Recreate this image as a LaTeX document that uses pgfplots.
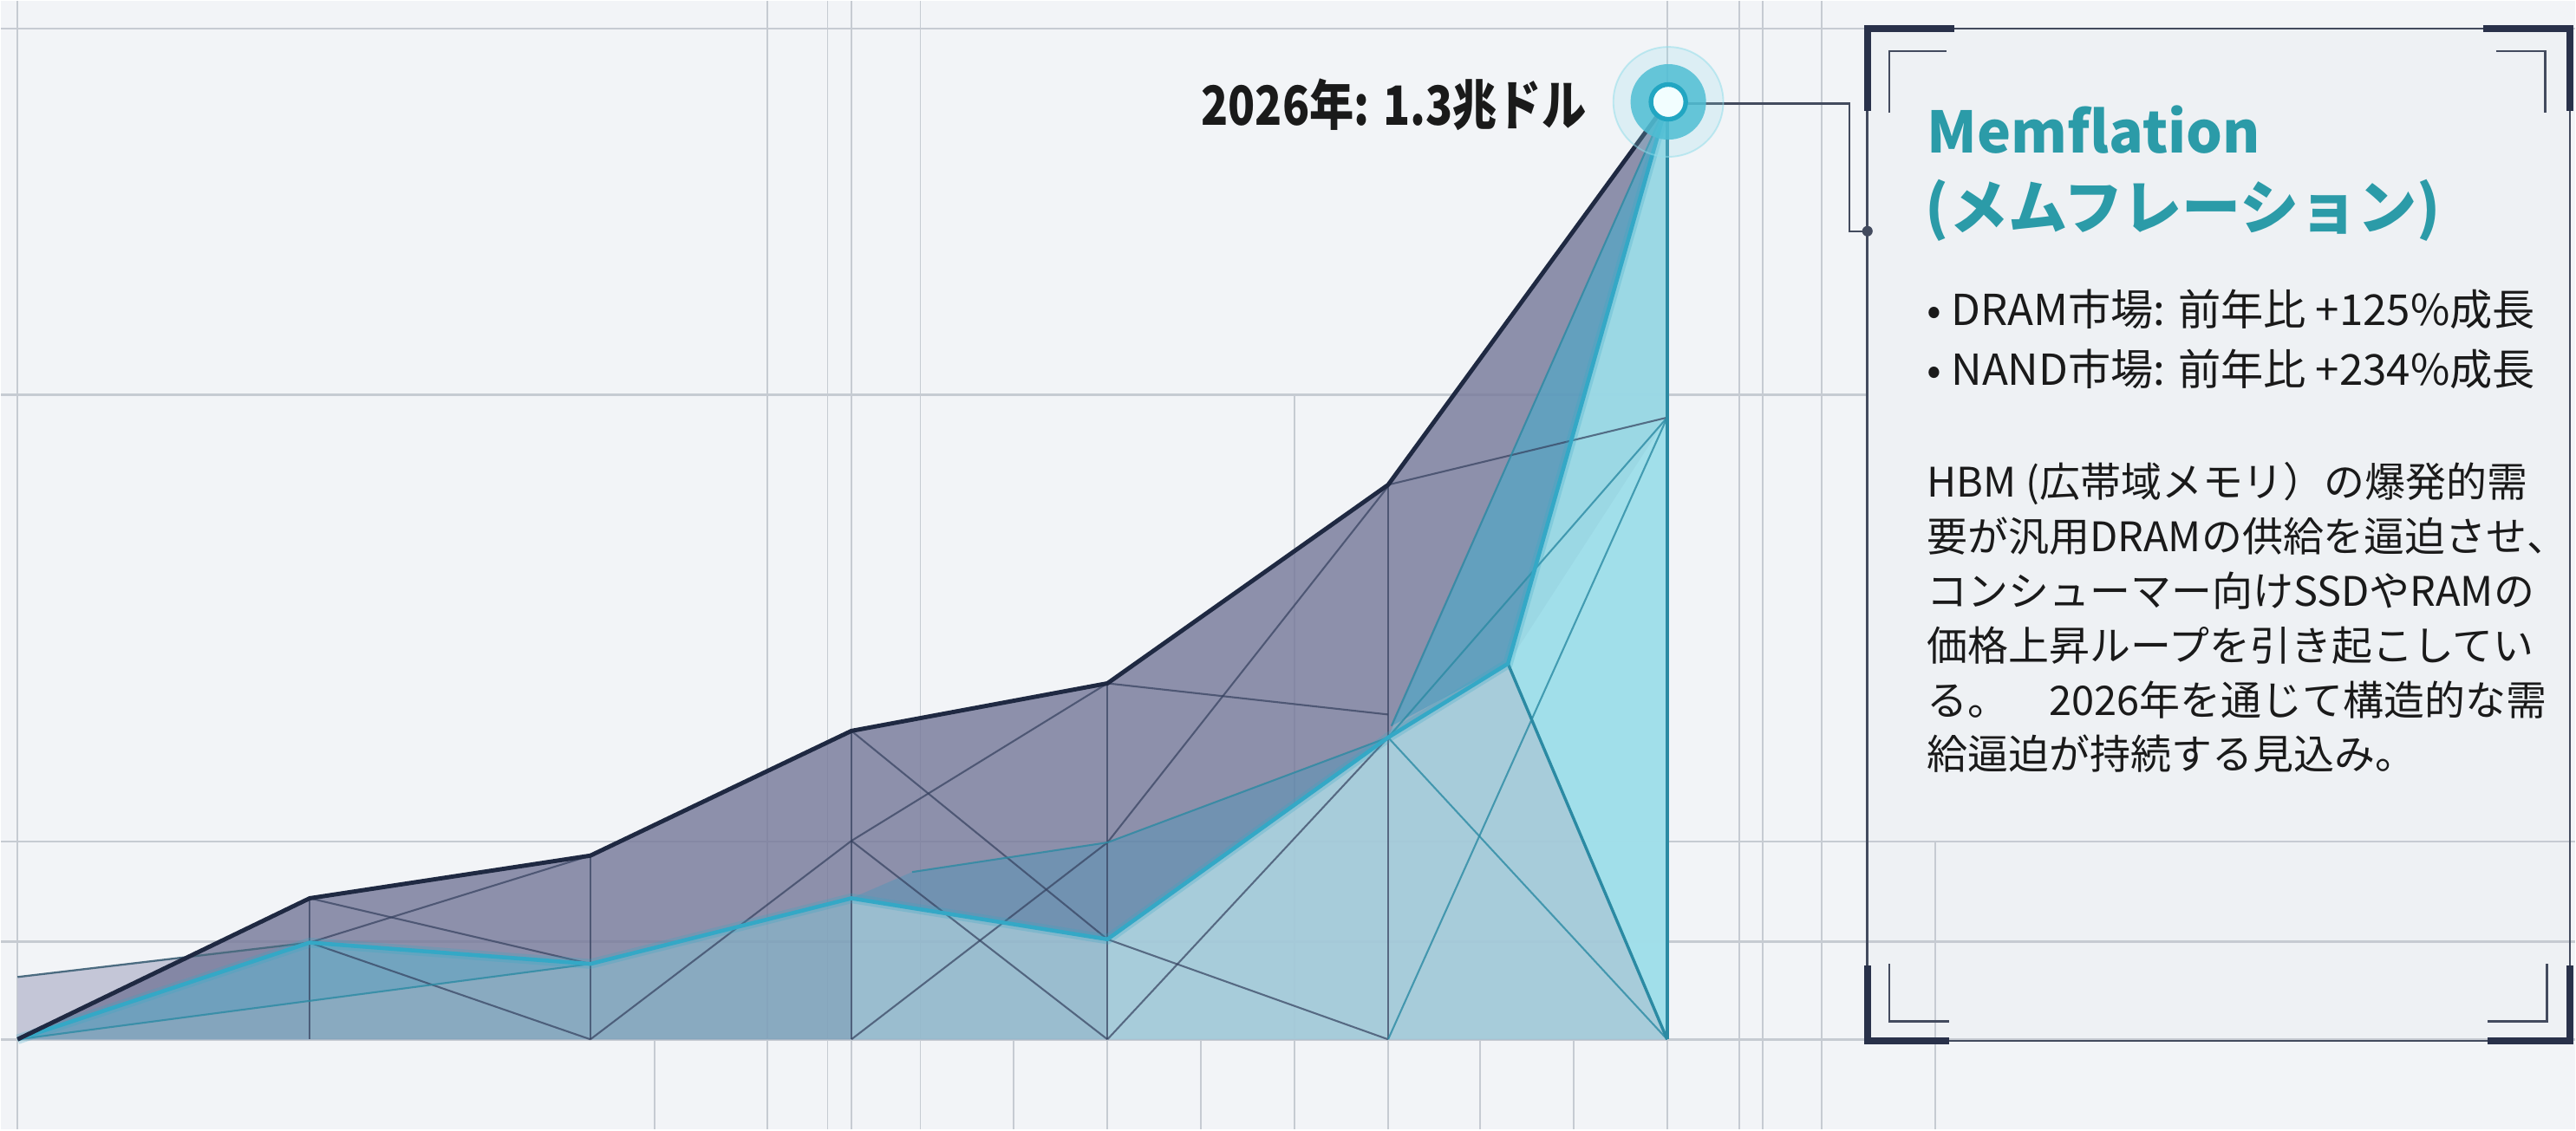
\documentclass[border=0pt]{standalone}
\usepackage{pgfplots}
\pgfplotsset{compat=1.18}
\usepackage{graphicx}
\usepackage{fontspec}
\setmainfont{Noto Sans CJK JP}
\definecolor{bgc}{HTML}{F2F4F7}
\definecolor{panelbg}{HTML}{EEF1F4}
\definecolor{gridc}{HTML}{C6CBD2}
\definecolor{navy}{HTML}{1F2942}
\definecolor{darkfill}{HTML}{777A9B}
\definecolor{lav}{HTML}{BFC2D4}
\definecolor{lavline}{HTML}{4B6B80}
\definecolor{cyanl}{HTML}{34A8C6}
\definecolor{cyanfill}{HTML}{86CADB}
\definecolor{brightc}{HTML}{A0E4EE}
\definecolor{bandc}{HTML}{3F97BE}
\definecolor{lightc}{HTML}{C8F0F6}
\definecolor{facetc}{HTML}{34405E}
\definecolor{tealf}{HTML}{2B8AA3}
\definecolor{titlec}{HTML}{2B9BA8}
\definecolor{framec}{HTML}{29314A}
\definecolor{thinf}{HTML}{434B5E}
\definecolor{txt}{HTML}{1A1A1A}
\definecolor{haloc}{HTML}{8FDDEA}
\definecolor{ringc}{HTML}{4FBED4}
\definecolor{innerd}{HTML}{22A6C2}
\definecolor{innerf}{HTML}{F2FEFF}
\begin{document}
\begin{tikzpicture}
\begin{axis}[
  scale only axis, width=784pt, height=344pt,
  xmin=0, xmax=1568, ymin=0, ymax=688, y dir=reverse,
  hide axis, clip=false,
  facet/.style={draw=facetc, line width=0.55pt, draw opacity=0.7, mark=none},
  tfacet/.style={draw=tealf, line width=0.55pt, draw opacity=0.8, mark=none},
]
% background and panel
\fill[bgc] (axis cs:0,0) rectangle (axis cs:1568,688);
\fill[panelbg] (axis cs:1137,17) rectangle (axis cs:1565,634);
% grid
\draw[gridc, line width=0.7pt] (axis cs:0,17) -- (axis cs:1568,17);
\draw[gridc, line width=0.7pt] (axis cs:0,240) -- (axis cs:1137,240);
\draw[gridc, line width=0.7pt] (axis cs:0,512.5) -- (axis cs:1568,512.5);
\draw[gridc, line width=0.7pt] (axis cs:0,573.5) -- (axis cs:1568,573.5);
\draw[gridc, line width=0.7pt] (axis cs:0,633) -- (axis cs:1568,633);
\pgfplotsinvokeforeach{10,467,503.5,518,560,1015,1059,1073,1109}{
  \draw[gridc, line width=0.5pt] (axis cs:#1,0) -- (axis cs:#1,688);
}
\pgfplotsinvokeforeach{398,617,674,731,845,901,958}{
  \draw[gridc, line width=0.5pt] (axis cs:#1,633) -- (axis cs:#1,688);
}
\draw[gridc, line width=0.5pt] (axis cs:788,240) -- (axis cs:788,688);
\draw[gridc, line width=0.5pt] (axis cs:1178.5,512.5) -- (axis cs:1178.5,688);

% ---- areas ----
\addplot[draw=none, fill=lav, fill opacity=0.9] coordinates {(10,595) (188,574) (188,633) (10,633)};
\addplot[draw=none, fill=darkfill, fill opacity=0.82] coordinates {(10,633) (188,547) (359,521) (518,445) (674,416) (845,295) (1015,62) (1015,633)};
\addplot[draw=none, fill=cyanfill, fill opacity=0.45] coordinates {(10,633) (188,574) (359,587) (518,547) (674,572) (845,449) (1015,62) (1015,633)};
\addplot[draw=none, fill=bandc, fill opacity=0.3] coordinates {(10,633) (188,574) (359,587)};
\addplot[draw=none, fill=bandc, fill opacity=0.35] coordinates {(518,547) (555,531) (674,513) (845,449) (674,572)};
\addplot[draw=none, fill=lightc, fill opacity=0.28] coordinates {(518,633) (518,547) (674,572) (845,449) (918,404) (1015,254) (1015,633)};
\addplot[draw=none, fill=lightc, fill opacity=0.3] coordinates {(674,633) (674,572) (845,449) (918,404) (1015,254) (1015,633)};
\addplot[draw=none, fill=bandc, fill opacity=0.5] coordinates {(847,442) (1015,62) (918,404)};
\addplot[draw=none, fill=brightc, fill opacity=0.8] coordinates {(918,404) (1015,62) (1015,633)};

% ---- facets ----
\addplot[facet] coordinates {(188,547) (188,633)};
\addplot[facet] coordinates {(359,521) (359,633)};
\addplot[facet] coordinates {(518,445) (518,633)};
\addplot[facet] coordinates {(674,416) (674,633)};
\addplot[facet] coordinates {(845,295) (845,633)};
\addplot[facet] coordinates {(188,547) (359,587)};
\addplot[facet] coordinates {(188,574) (359,521)};
\addplot[facet] coordinates {(188,574) (359,633)};
\addplot[facet] coordinates {(359,633) (518,512)};
\addplot[facet] coordinates {(518,445) (674,572)};
\addplot[facet] coordinates {(518,512) (674,416)};
\addplot[facet] coordinates {(518,512) (674,633)};
\addplot[facet] coordinates {(518,633) (674,513)};
\addplot[facet] coordinates {(674,416) (845,435)};
\addplot[facet] coordinates {(674,513) (845,296)};
\addplot[facet] coordinates {(674,572) (845,633)};
\addplot[facet] coordinates {(845,449) (674,633)};
\addplot[facet] coordinates {(845,295) (1015,254)};
\addplot[tfacet] coordinates {(10,633) (359,587)};
\addplot[tfacet] coordinates {(555,531) (674,513) (845,449)};
\addplot[tfacet] coordinates {(845,449) (1015,633)};
\addplot[tfacet] coordinates {(845,633) (1015,254)};
\addplot[tfacet] coordinates {(845,449) (1015,254)};
\addplot[tfacet] coordinates {(847,442) (1015,62)};
\addplot[draw=tealf, line width=0.9pt, mark=none] coordinates {(918,404) (1015,633)};
\addplot[draw=tealf, line width=0.9pt, mark=none] coordinates {(1015,62) (1015,633)};
\addplot[draw=lavline, line width=0.6pt, mark=none] coordinates {(10,595) (188,574)};

% ---- main series ----
\addplot[draw=cyanl, line width=3pt, draw opacity=0.25, mark=none] coordinates {(10,633) (188,574) (359,587) (518,547) (674,572) (845,449) (918,404) (1015,62)};
\addplot[draw=cyanl, line width=1.2pt, mark=none] coordinates {(10,633) (188,574) (359,587) (518,547) (674,572) (845,449) (918,404) (1015,62)};
\addplot[draw=navy, line width=1.3pt, mark=none, line join=round] coordinates {(10,633) (188,547) (359,521) (518,445) (674,416) (845,295) (1015,62)};

% ---- connector ----
\draw[thinf, line width=0.6pt] (axis cs:1027,62.7) -- (axis cs:1126,62.7) -- (axis cs:1126,140.4) -- (axis cs:1137,140.4);
\fill[thinf] (axis cs:1137,140.4) circle (1.6pt);

% ---- peak marker ----
\addplot[color=haloc, only marks, mark=*, mark size=16.75pt, mark options={draw=haloc, fill=haloc, fill opacity=0.22, draw opacity=0.5, line width=0.5pt}] coordinates {(1015.7,61.6)};
\addplot[color=ringc, only marks, mark=*, mark size=11.5pt, mark options={draw=ringc, draw opacity=0, fill=ringc, fill opacity=0.85}] coordinates {(1015.7,61.6)};
\addplot[color=innerd, only marks, mark=*, mark size=5.3pt, mark options={draw=innerd, fill=innerf, line width=1.4pt}] coordinates {(1015.7,61.6)};

% ---- panel frame ----
\draw[thinf, line width=0.7pt] (axis cs:1137,17) rectangle (axis cs:1565,634);
\draw[framec, line width=2.2pt] (axis cs:1137,67) -- (axis cs:1137,17) -- (axis cs:1190,17);
\draw[framec, line width=2.2pt] (axis cs:1512,17) -- (axis cs:1565,17) -- (axis cs:1565,67);
\draw[framec, line width=2.2pt] (axis cs:1137,588) -- (axis cs:1137,634) -- (axis cs:1187,634);
\draw[framec, line width=2.2pt] (axis cs:1515,634) -- (axis cs:1565,634) -- (axis cs:1565,588);
\draw[thinf, line width=0.6pt] (axis cs:1150.5,68) -- (axis cs:1150.5,30.6) -- (axis cs:1185,30.6);
\draw[thinf, line width=0.6pt] (axis cs:1520,30.6) -- (axis cs:1550,30.6) -- (axis cs:1550,68);
\draw[thinf, line width=0.6pt] (axis cs:1150.5,587) -- (axis cs:1150.5,622) -- (axis cs:1187,622);
\draw[thinf, line width=0.6pt] (axis cs:1515,622) -- (axis cs:1551,622) -- (axis cs:1551,587);

% ---- texts ----
\node[anchor=base east, inner sep=0pt, text=txt, font=\fontsize{16.5pt}{18pt}\selectfont\bfseries] at (axis cs:966,75.6) {\scalebox{0.82}[1]{2026年: 1.3兆ドル}};
\node[anchor=base west, inner sep=0pt, text=titlec, font=\fontsize{17.4pt}{20pt}\selectfont\bfseries] at (axis cs:1173,93) {Memflation};
\node[anchor=base west, inner sep=0pt, text=titlec, font=\fontsize{18pt}{21pt}\selectfont\bfseries] at (axis cs:1172,139) {(メムフレーション)};
\node[anchor=base west, inner sep=0pt, text=txt, font=\fontsize{13pt}{15pt}\selectfont] at (axis cs:1173,198) {• DRAM市場: 前年比 +125\%成長};
\node[anchor=base west, inner sep=0pt, text=txt, font=\fontsize{13pt}{15pt}\selectfont] at (axis cs:1173,234.5) {• NAND市場: 前年比 +234\%成長};
\node[anchor=base west, inner sep=0pt, text=txt, font=\fontsize{12.4pt}{16pt}\selectfont] at (axis cs:1173,302.5) {HBM (広帯域メモリ）の爆発的需};
\node[anchor=base west, inner sep=0pt, text=txt, font=\fontsize{12.4pt}{16pt}\selectfont] at (axis cs:1173,335.7) {要が汎用DRAMの供給を逼迫させ、};
\node[anchor=base west, inner sep=0pt, text=txt, font=\fontsize{12.4pt}{16pt}\selectfont] at (axis cs:1173,368.9) {コンシューマー向けSSDやRAMの};
\node[anchor=base west, inner sep=0pt, text=txt, font=\fontsize{12.4pt}{16pt}\selectfont] at (axis cs:1173,402.1) {価格上昇ループを引き起こしてい};
\node[anchor=base west, inner sep=0pt, text=txt, font=\fontsize{12.4pt}{16pt}\selectfont] at (axis cs:1173,435.3) {る。　2026年を通じて構造的な需};
\node[anchor=base west, inner sep=0pt, text=txt, font=\fontsize{12.4pt}{16pt}\selectfont] at (axis cs:1173,468.5) {給逼迫が持続する見込み。};
\end{axis}
\end{tikzpicture}
\end{document}
